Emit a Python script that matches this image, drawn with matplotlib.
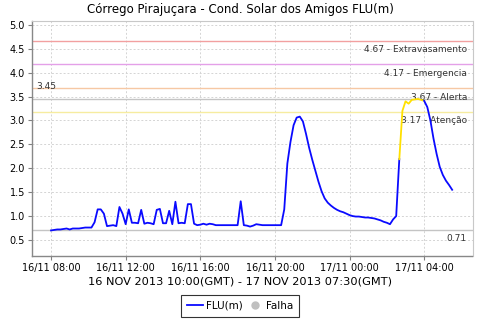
import matplotlib
matplotlib.use("Agg")
import matplotlib.pyplot as plt
import matplotlib.dates as mdates
from matplotlib.lines import Line2D
import pandas as pd
import numpy as np

plt.rcParams['font.family'] = ['DejaVu Sans']

# ---- data ----
start_time = "2013-11-16 08:00"
interval = "10min"
flu_values = [
    0.70, 0.71, 0.72, 0.72, 0.73, 0.74, 0.72, 0.74, 0.74, 0.74,
    0.75, 0.76, 0.76, 0.76, 0.87, 1.14, 1.14, 1.05, 0.79, 0.80,
    0.81, 0.79, 1.19, 1.05, 0.83, 1.14, 0.86, 0.86, 0.85, 1.13,
    0.84, 0.86, 0.85, 0.83, 1.13, 1.15, 0.85, 0.85, 1.11, 0.83,
    1.30, 0.85, 0.86, 0.85, 1.25, 1.25, 0.84, 0.81, 0.82, 0.84,
    0.82, 0.84, 0.83, 0.81, 0.81, 0.81, 0.81, 0.81, 0.81, 0.81,
    0.81, 1.31, 0.81, 0.80, 0.78, 0.80, 0.83, 0.82, 0.81, 0.81,
    0.81, 0.81, 0.81, 0.81, 0.81, 1.14, 2.10, 2.55, 2.90, 3.06,
    3.08, 2.98, 2.72, 2.43, 2.18, 1.95, 1.72, 1.52, 1.37, 1.28,
    1.22, 1.17, 1.13, 1.10, 1.08, 1.05, 1.02, 1.00, 0.99, 0.99,
    0.98, 0.97, 0.97, 0.96, 0.95, 0.93, 0.91, 0.88, 0.86, 0.83,
    0.93, 1.00, 2.19, 3.20, 3.40, 3.35, 3.43, 3.44, 3.45, 3.43,
    3.41, 3.28, 3.00, 2.62, 2.30, 2.03, 1.86, 1.74, 1.65, 1.55,
]
yellow_start = 112
yellow_end = 120

levels = [4.67, 4.17, 3.67, 3.45, 3.17, 0.71]
level_labels = ["4.67 - Extravasamento", "4.17 - Emergencia", "3.67 - Alerta",
                "3.45", "3.17 - Atenção", "0.71"]
level_colors = ["#f2a0a0", "#e4a0e8", "#f6c8a4", "#c4c4c4", "#f6eca0", "#c4c4c4"]

x_ticks = ["2013-11-16 08:00", "2013-11-16 12:00", "2013-11-16 16:00",
           "2013-11-16 20:00", "2013-11-17 00:00", "2013-11-17 04:00"]
y_ticks = [0.5, 1.0, 1.5, 2.0, 2.5, 3.0, 3.5, 4.0, 4.5, 5.0]

title = "Córrego Pirajuçara - Cond. Solar dos Amigos FLU(m)"
xlabel = "16 NOV 2013 10:00(GMT) - 17 NOV 2013 07:30(GMT)"

# ---- figure ----
times = pd.date_range(start_time, periods=len(flu_values), freq=interval)
vals = np.array(flu_values)

fig = plt.figure(figsize=(4.8, 3.2), dpi=100)
ax = fig.add_axes([32/480, 64/320, (472.5-32)/480, (256-20.5)/320])

t0 = pd.Timestamp(start_time)
ax.set_xlim(t0 - pd.Timedelta(hours=1.02), t0 + pd.Timedelta(hours=22.59))
ax.set_ylim(0.165, 5.09)

ax.grid(True, color="#d4d4d4", linestyle=(0, (2, 2)), linewidth=0.7)
ax.set_axisbelow(True)

for lv, lab, col in zip(levels, level_labels, level_colors):
    ax.axhline(lv, color=col, linewidth=1.0, zorder=2)

blue = "#0a0aff"
yellow = "#ffe000"
ax.plot(times[:yellow_start + 1], vals[:yellow_start + 1], color=blue, lw=1.3, zorder=4)
ax.plot(times[yellow_start:yellow_end + 1], vals[yellow_start:yellow_end + 1], color=yellow, lw=1.3, zorder=4)
ax.plot(times[yellow_end:], vals[yellow_end:], color=blue, lw=1.3, zorder=4)

# level labels
tc = "#333333"
for lv, lab in zip(levels, level_labels):
    if lab == "3.45":
        ax.annotate(lab, xy=(0, lv), xycoords=("axes fraction", "data"),
                    xytext=(3, 6), textcoords="offset points",
                    ha="left", va="bottom", fontsize=6.5, color=tc)
    else:
        ax.annotate(lab, xy=(1, lv), xycoords=("axes fraction", "data"),
                    xytext=(-4, -3), textcoords="offset points",
                    ha="right", va="top", fontsize=6.5, color=tc)

ax.set_xticks([pd.Timestamp(t) for t in x_ticks])
ax.xaxis.set_major_formatter(mdates.DateFormatter("%d/%m %H:%M"))
ax.set_yticks(y_ticks)
ax.set_yticklabels([f"{v:.1f}" for v in y_ticks])
ax.tick_params(axis="both", labelsize=7, length=3, width=0.8, color="#808080", pad=2)

for s in ["top", "right"]:
    ax.spines[s].set_color("#c8c8c8")
    ax.spines[s].set_linewidth(0.8)
for s in ["left", "bottom"]:
    ax.spines[s].set_color("#888888")
    ax.spines[s].set_linewidth(1.0)

fig.text(0.5, 1 - 10/320, title, ha="center", va="center", fontsize=8.5)
fig.text(0.5, 1 - 281/320, xlabel, ha="center", va="center", fontsize=8.2)

handles = [Line2D([0], [0], color=blue, lw=1.3),
           Line2D([0], [0], marker="o", color="#c0c0c0", linestyle="none", markersize=5)]
leg = fig.legend(handles, ["FLU(m)", "Falha"], loc="center", bbox_to_anchor=(0.5, 1 - 306/320),
                 ncol=2, fontsize=7.5, frameon=True, fancybox=False, handlelength=1.6,
                 handletextpad=0.3, columnspacing=0.3, borderpad=0.55, borderaxespad=0)
leg.get_frame().set_edgecolor("black")
leg.get_frame().set_linewidth(0.8)

fig.savefig("out.png", dpi=100)
